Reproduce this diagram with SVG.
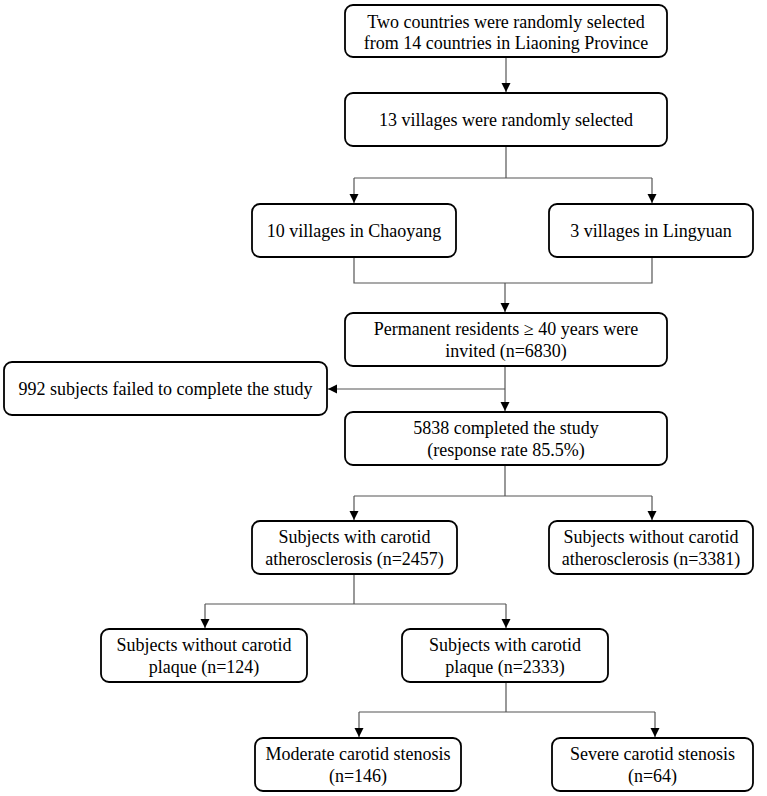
<svg xmlns="http://www.w3.org/2000/svg" width="767" height="796" viewBox="0 0 767 796">
<style>
.box{fill:#fff;stroke:#000;stroke-width:1.8}
text{font-family:'Liberation Serif','DejaVu Serif',serif;font-size:18px;fill:#000;text-anchor:middle}
.c{fill:none;stroke:#555;stroke-width:1.2}
</style>
<defs>
<marker id="ah" markerUnits="userSpaceOnUse" markerWidth="10" markerHeight="10" refX="9" refY="5" orient="auto">
<path d="M0,0.5 L9,5 L0,9.5 Z" fill="#000"/>
</marker>
</defs>
<rect width="767" height="796" fill="#fff"/>
<g id="connectors">
<path class="c" d="M506,57 V92" marker-end="url(#ah)"/>
<path class="c" d="M506,146 V178 M354,178 H652"/>
<path class="c" d="M354,178 V203" marker-end="url(#ah)"/>
<path class="c" d="M652,178 V203" marker-end="url(#ah)"/>
<path class="c" d="M354,257 V283 H652 V257"/>
<path class="c" d="M505,283 V312" marker-end="url(#ah)"/>
<path class="c" d="M505,366 V411" marker-end="url(#ah)"/>
<path class="c" d="M505,389 H328" marker-end="url(#ah)"/>
<path class="c" d="M505,465 V496 M354,496 H652"/>
<path class="c" d="M354,496 V520" marker-end="url(#ah)"/>
<path class="c" d="M652,496 V520" marker-end="url(#ah)"/>
<path class="c" d="M354,574 V604 M205,604 H506"/>
<path class="c" d="M205,604 V628" marker-end="url(#ah)"/>
<path class="c" d="M506,604 V628" marker-end="url(#ah)"/>
<path class="c" d="M506,682 V712 M359,712 H655"/>
<path class="c" d="M359,712 V737" marker-end="url(#ah)"/>
<path class="c" d="M655,712 V737" marker-end="url(#ah)"/>
</g>
<g id="n1"><rect class="box" x="345" y="5" width="322" height="52" rx="8"/>
<text x="506" y="27.5" font-family="Liberation Serif, serif">Two countries were randomly selected</text>
<text x="506" y="49">from 14 countries in Liaoning Province</text></g>
<g id="n2"><rect class="box" x="345" y="93" width="322" height="53" rx="8"/>
<text x="506" y="126">13 villages were randomly selected</text></g>
<g id="n3"><rect class="box" x="252" y="204" width="204" height="53" rx="8"/>
<text x="354" y="237">10 villages in Chaoyang</text></g>
<g id="n4"><rect class="box" x="549" y="204" width="204" height="53" rx="8"/>
<text x="651" y="237">3 villages in Lingyuan</text></g>
<g id="n5"><rect class="box" x="345" y="313" width="322" height="53" rx="8"/>
<text x="506" y="335">Permanent residents ≥ 40 years were</text>
<text x="506" y="356.5">invited (n=6830)</text></g>
<g id="n6"><rect class="box" x="4" y="362" width="323" height="53" rx="8"/>
<text x="165.5" y="395">992 subjects failed to complete the study</text></g>
<g id="n7"><rect class="box" x="345" y="412" width="322" height="53" rx="8"/>
<text x="506" y="434">5838 completed the study</text>
<text x="506" y="455.5">(response rate 85.5%)</text></g>
<g id="n8"><rect class="box" x="252" y="521" width="205" height="53" rx="8"/>
<text x="354.5" y="543">Subjects with carotid</text>
<text x="354.5" y="564.5">atherosclerosis (n=2457)</text></g>
<g id="n9"><rect class="box" x="549" y="521" width="204" height="53" rx="8"/>
<text x="651" y="543">Subjects without carotid</text>
<text x="651" y="564.5">atherosclerosis (n=3381)</text></g>
<g id="n10"><rect class="box" x="101" y="629" width="206" height="53" rx="8"/>
<text x="204" y="651">Subjects without carotid</text>
<text x="204" y="672.5">plaque (n=124)</text></g>
<g id="n11"><rect class="box" x="402" y="629" width="206" height="53" rx="8"/>
<text x="505" y="651">Subjects with carotid</text>
<text x="505" y="672.5">plaque (n=2333)</text></g>
<g id="n12"><rect class="box" x="255" y="738" width="206" height="53" rx="8"/>
<text x="358" y="760">Moderate carotid stenosis</text>
<text x="358" y="781.5">(n=146)</text></g>
<g id="n13"><rect class="box" x="552" y="738" width="201" height="53" rx="8"/>
<text x="652.5" y="760">Severe carotid stenosis</text>
<text x="652.5" y="781.5">(n=64)</text></g>
</svg>
